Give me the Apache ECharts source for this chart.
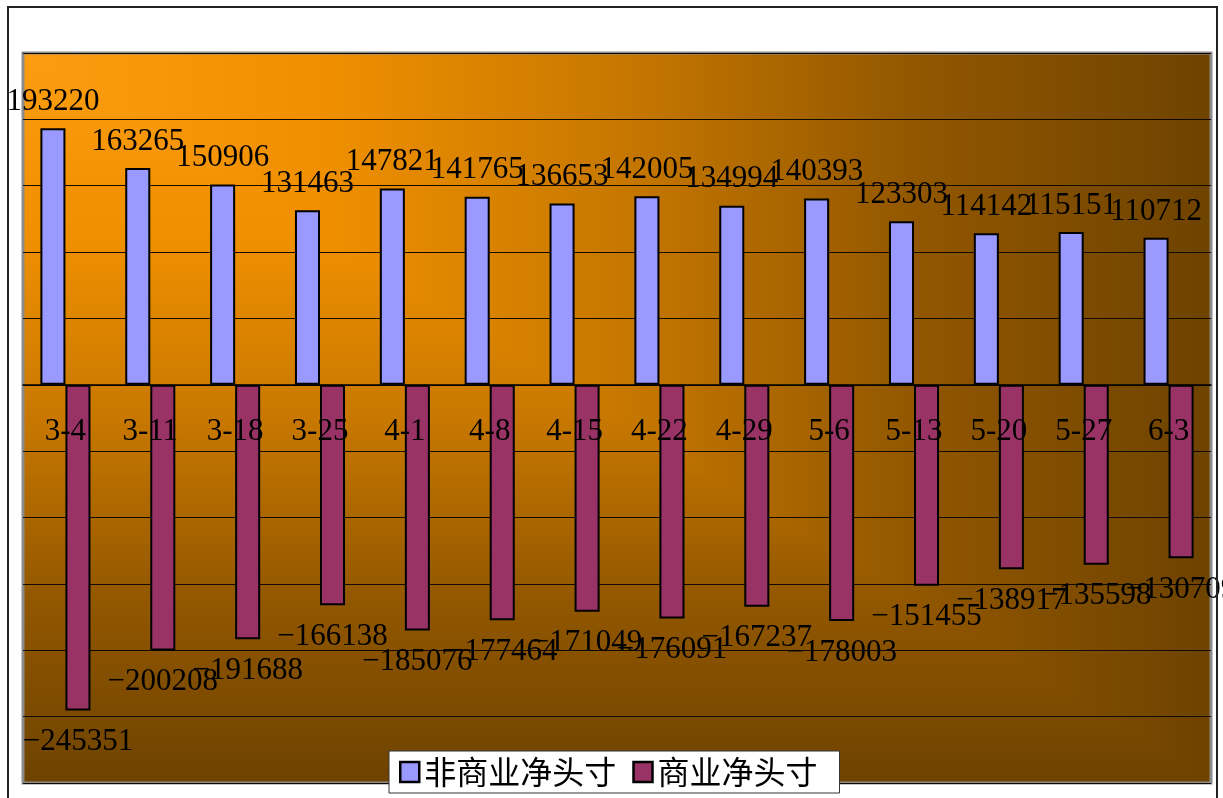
<!DOCTYPE html>
<html>
<head>
<meta charset="utf-8">
<script src="https://cdn.jsdelivr.net/npm/echarts@6/dist/echarts.min.js"></script>
<style>
html,body{margin:0;padding:0;background:#fff;}
#main{width:1223px;height:798px;}
</style>
</head>
<body>
<div id="main"></div>
<script>
// 日期
const weeks = ['3-4','3-11','3-18','3-25','4-1','4-8','4-15','4-22','4-29','5-6','5-13','5-20','5-27','6-3']
// 非商业净头寸
const nonCommercial = [193220,163265,150906,131463,147821,141765,136653,142005,134994,140393,123303,114142,115151,110712]
// 商业净头寸
const commercial = [-245351,-200208,-191688,-166138,-185076,-177464,-171049,-176091,-167237,-178003,-151455,-138917,-135598,-130709]

const serif = 'Liberation Serif'
const chart = echarts.init(document.getElementById('main'))

// 绘图区位置
const gx = 23, gy = 53, gw = 1223 - 23 - 12, gh = 798 - 53 - 15

// 从左上角向外扩散的渐变背景（矩形等值线）
function makeBg(w, h) {
  const c = document.createElement('canvas')
  c.width = w; c.height = h
  const ctx = c.getContext('2d')
  const stops = [[0,'#fc9c10'],[0.25,'#f09000'],[0.5,'#c87800'],[0.75,'#925700'],[1,'#6e4300']]
  let g = ctx.createLinearGradient(0, 0, 0, h)
  stops.forEach(s => g.addColorStop(s[0], s[1]))
  ctx.fillStyle = g
  ctx.fillRect(0, 0, w, h)
  ctx.save()
  ctx.beginPath()
  ctx.moveTo(0, 0); ctx.lineTo(w, 0); ctx.lineTo(w, h); ctx.closePath()
  ctx.clip()
  g = ctx.createLinearGradient(0, 0, w, 0)
  stops.forEach(s => g.addColorStop(s[0], s[1]))
  ctx.fillStyle = g
  ctx.fillRect(0, 0, w, h)
  ctx.restore()
  return c
}

// 负号用长横线显示
const fmtVal = p => String(p.value).replace('-', '\u2212')

const option = {
  animation: false,
  backgroundColor: '#fff',
  graphic: [
    {
      type: 'image',
      left: gx, top: gy,
      style: {image: makeBg(gw, gh), x: 0, y: 0, width: gw, height: gh},
      z: -10
    },
    {
      type: 'rect',
      shape: {x: 8, y: 7, width: 1209, height: 810},
      style: {fill: 'none', stroke: '#222', lineWidth: 2},
      z: 100
    }
  ],
  grid: {
    left: gx, right: 12, top: gy, bottom: 15,
    outerBoundsMode: 'none',
    containLabel: false,
    show: true,
    borderColor: '#8c8c8c',
    borderWidth: 3,
    backgroundColor: 'transparent'
  },
  legend: {
    left: 389, top: 751,
    backgroundColor: '#fff',
    borderColor: '#333',
    borderWidth: 1,
    padding: [5, 22, 5, 10],
    itemGap: 16,
    itemWidth: 19,
    itemHeight: 20,
    icon: 'rect',
    itemStyle: {borderColor: '#000', borderWidth: 2.5},
    textStyle: {fontFamily: 'Noto Sans CJK SC', fontSize: 32, color: '#000'}
  },
  xAxis: [
    {
      type: 'category',
      data: weeks,
      axisLine: {onZero: true, lineStyle: {color: '#000', width: 1.5}},
      axisTick: {inside: true, length: 8, lineStyle: {color: '#000'}},
      axisLabel: {show: false},
      splitLine: {show: false}
    },
    {
      // 类目文字放在零轴下方
      type: 'category',
      data: weeks,
      position: 'bottom',
      offset: -398,
      z: 10,
      axisLine: {show: false},
      axisTick: {show: false},
      axisLabel: {interval: 0, margin: 31, fontFamily: serif, fontSize: 31, color: '#000'},
      splitLine: {show: false}
    }
  ],
  yAxis: {
    type: 'value',
    min: -300000, max: 250000, interval: 50000,
    axisLabel: {show: false},
    axisLine: {show: false},
    axisTick: {show: false},
    splitLine: {lineStyle: {color: '#120a00', width: 1}}
  },
  series: [
    {
      name: '非商业净头寸',
      type: 'bar',
      data: nonCommercial,
      barGap: '0%',
      barCategoryGap: '41%',
      itemStyle: {color: '#9999ff', borderColor: '#000', borderWidth: 2},
      label: {show: true, position: 'top', distance: 11, fontFamily: serif, fontSize: 31, color: '#000', formatter: fmtVal}
    },
    {
      name: '商业净头寸',
      type: 'bar',
      data: commercial,
      barGap: '0%',
      barCategoryGap: '41%',
      itemStyle: {color: '#993366', borderColor: '#000', borderWidth: 2},
      label: {show: true, position: 'bottom', distance: 16, fontFamily: serif, fontSize: 31, color: '#000', formatter: fmtVal}
    }
  ]
}
chart.setOption(option)
</script>
</body>
</html>
